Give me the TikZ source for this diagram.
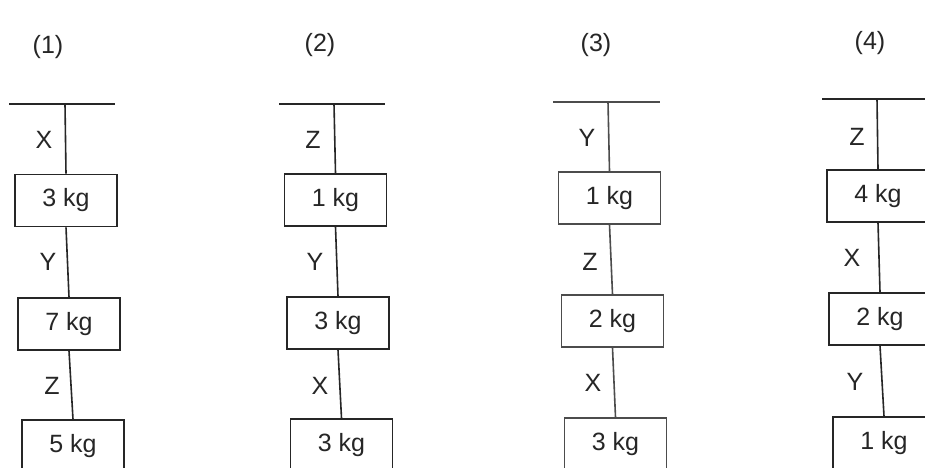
\documentclass[tikz,border=0pt]{standalone}
\usepackage{fontspec}
\setmainfont{Liberation Sans}
\begin{document}
\begin{tikzpicture}[x=1pt,y=-1pt,
  ink/.style={draw=black!85, line width=1.6pt},
  mass/.style={ink, rectangle, minimum width=102pt, minimum height=52pt, inner sep=0pt,
    font=\fontsize{25}{29}\selectfont, text=black!85},
  lab/.style={font=\fontsize{25}{29}\selectfont, text=black!85, inner sep=0pt},
  ttl/.style={font=\fontsize{25}{29}\selectfont, text=black!85, inner sep=0pt}]
\useasboundingbox[clip] (0,0) rectangle (925,467);
\fill[white] (0,0) rectangle (925,467);
% titles
\node[ttl] (t1) at (48,47) {(1)};
\node[ttl] (t2) at (320,45) {(2)};
\node[ttl] (t3) at (596,45) {(3)};
\node[ttl] (t4) at (870,43) {(4)};
% ---------- column 1
\coordinate (c1l) at (9,104); \coordinate (c1r) at (115,104);
\coordinate (c1m) at (65,104);
\draw[ink] (c1l) -- (c1r);
\node[mass] (a1) at (66,200.5) {3 kg};
\node[mass] (a2) at (69,324) {7 kg};
\node[mass] (a3) at (73,446) {5 kg};
\draw[ink] (c1m) -- (a1.north);
\draw[ink] (a1.south) -- (a2.north);
\draw[ink] (a2.south) -- (a3.north);
\node[lab] (ax) at (44,140) {X};
\node[lab] (ay) at (48,262) {Y};
\node[lab] (az) at (52,386) {Z};
% ---------- column 2
\coordinate (c2l) at (279,104); \coordinate (c2r) at (385,104);
\coordinate (c2m) at (334,104);
\draw[ink] (c2l) -- (c2r);
\node[mass] (b1) at (335.5,200) {1 kg};
\node[mass] (b2) at (338,323) {3 kg};
\node[mass] (b3) at (341.5,445) {3 kg};
\draw[ink] (c2m) -- (b1.north);
\draw[ink] (b1.south) -- (b2.north);
\draw[ink] (b2.south) -- (b3.north);
\node[lab] (bz) at (313,140) {Z};
\node[lab] (by) at (315,262) {Y};
\node[lab] (bx) at (320,386) {X};
% ---------- column 3
\begin{scope}[every node/.append style={text=black!65}, ink/.append style={draw=black!70}]
\coordinate (c3l) at (553,102); \coordinate (c3r) at (660,102);
\coordinate (c3m) at (608,102);
\draw[ink] (c3l) -- (c3r);
\node[mass] (d1) at (609.5,198) {1 kg};
\node[mass] (d2) at (612.5,321) {2 kg};
\node[mass] (d3) at (615.5,444) {3 kg};
\draw[ink] (c3m) -- (d1.north);
\draw[ink] (d1.south) -- (d2.north);
\draw[ink] (d2.south) -- (d3.north);
\node[lab] (dy) at (587,138) {Y};
\node[lab] (dz) at (590,262) {Z};
\node[lab] (dx) at (593,383) {X};
\end{scope}
% ---------- column 4
\coordinate (c4l) at (822,99); \coordinate (c4r) at (930,99);
\coordinate (c4m) at (877,99);
\draw[ink] (c4l) -- (c4r);
\node[mass] (e1) at (878,196) {4 kg};
\node[mass] (e2) at (880,319) {2 kg};
\node[mass] (e3) at (884,443) {1 kg};
\draw[ink] (c4m) -- (e1.north);
\draw[ink] (e1.south) -- (e2.north);
\draw[ink] (e2.south) -- (e3.north);
\node[lab] (ez) at (857,137) {Z};
\node[lab] (ex) at (852,258) {X};
\node[lab] (ey) at (855,382) {Y};
\end{tikzpicture}
\end{document}
